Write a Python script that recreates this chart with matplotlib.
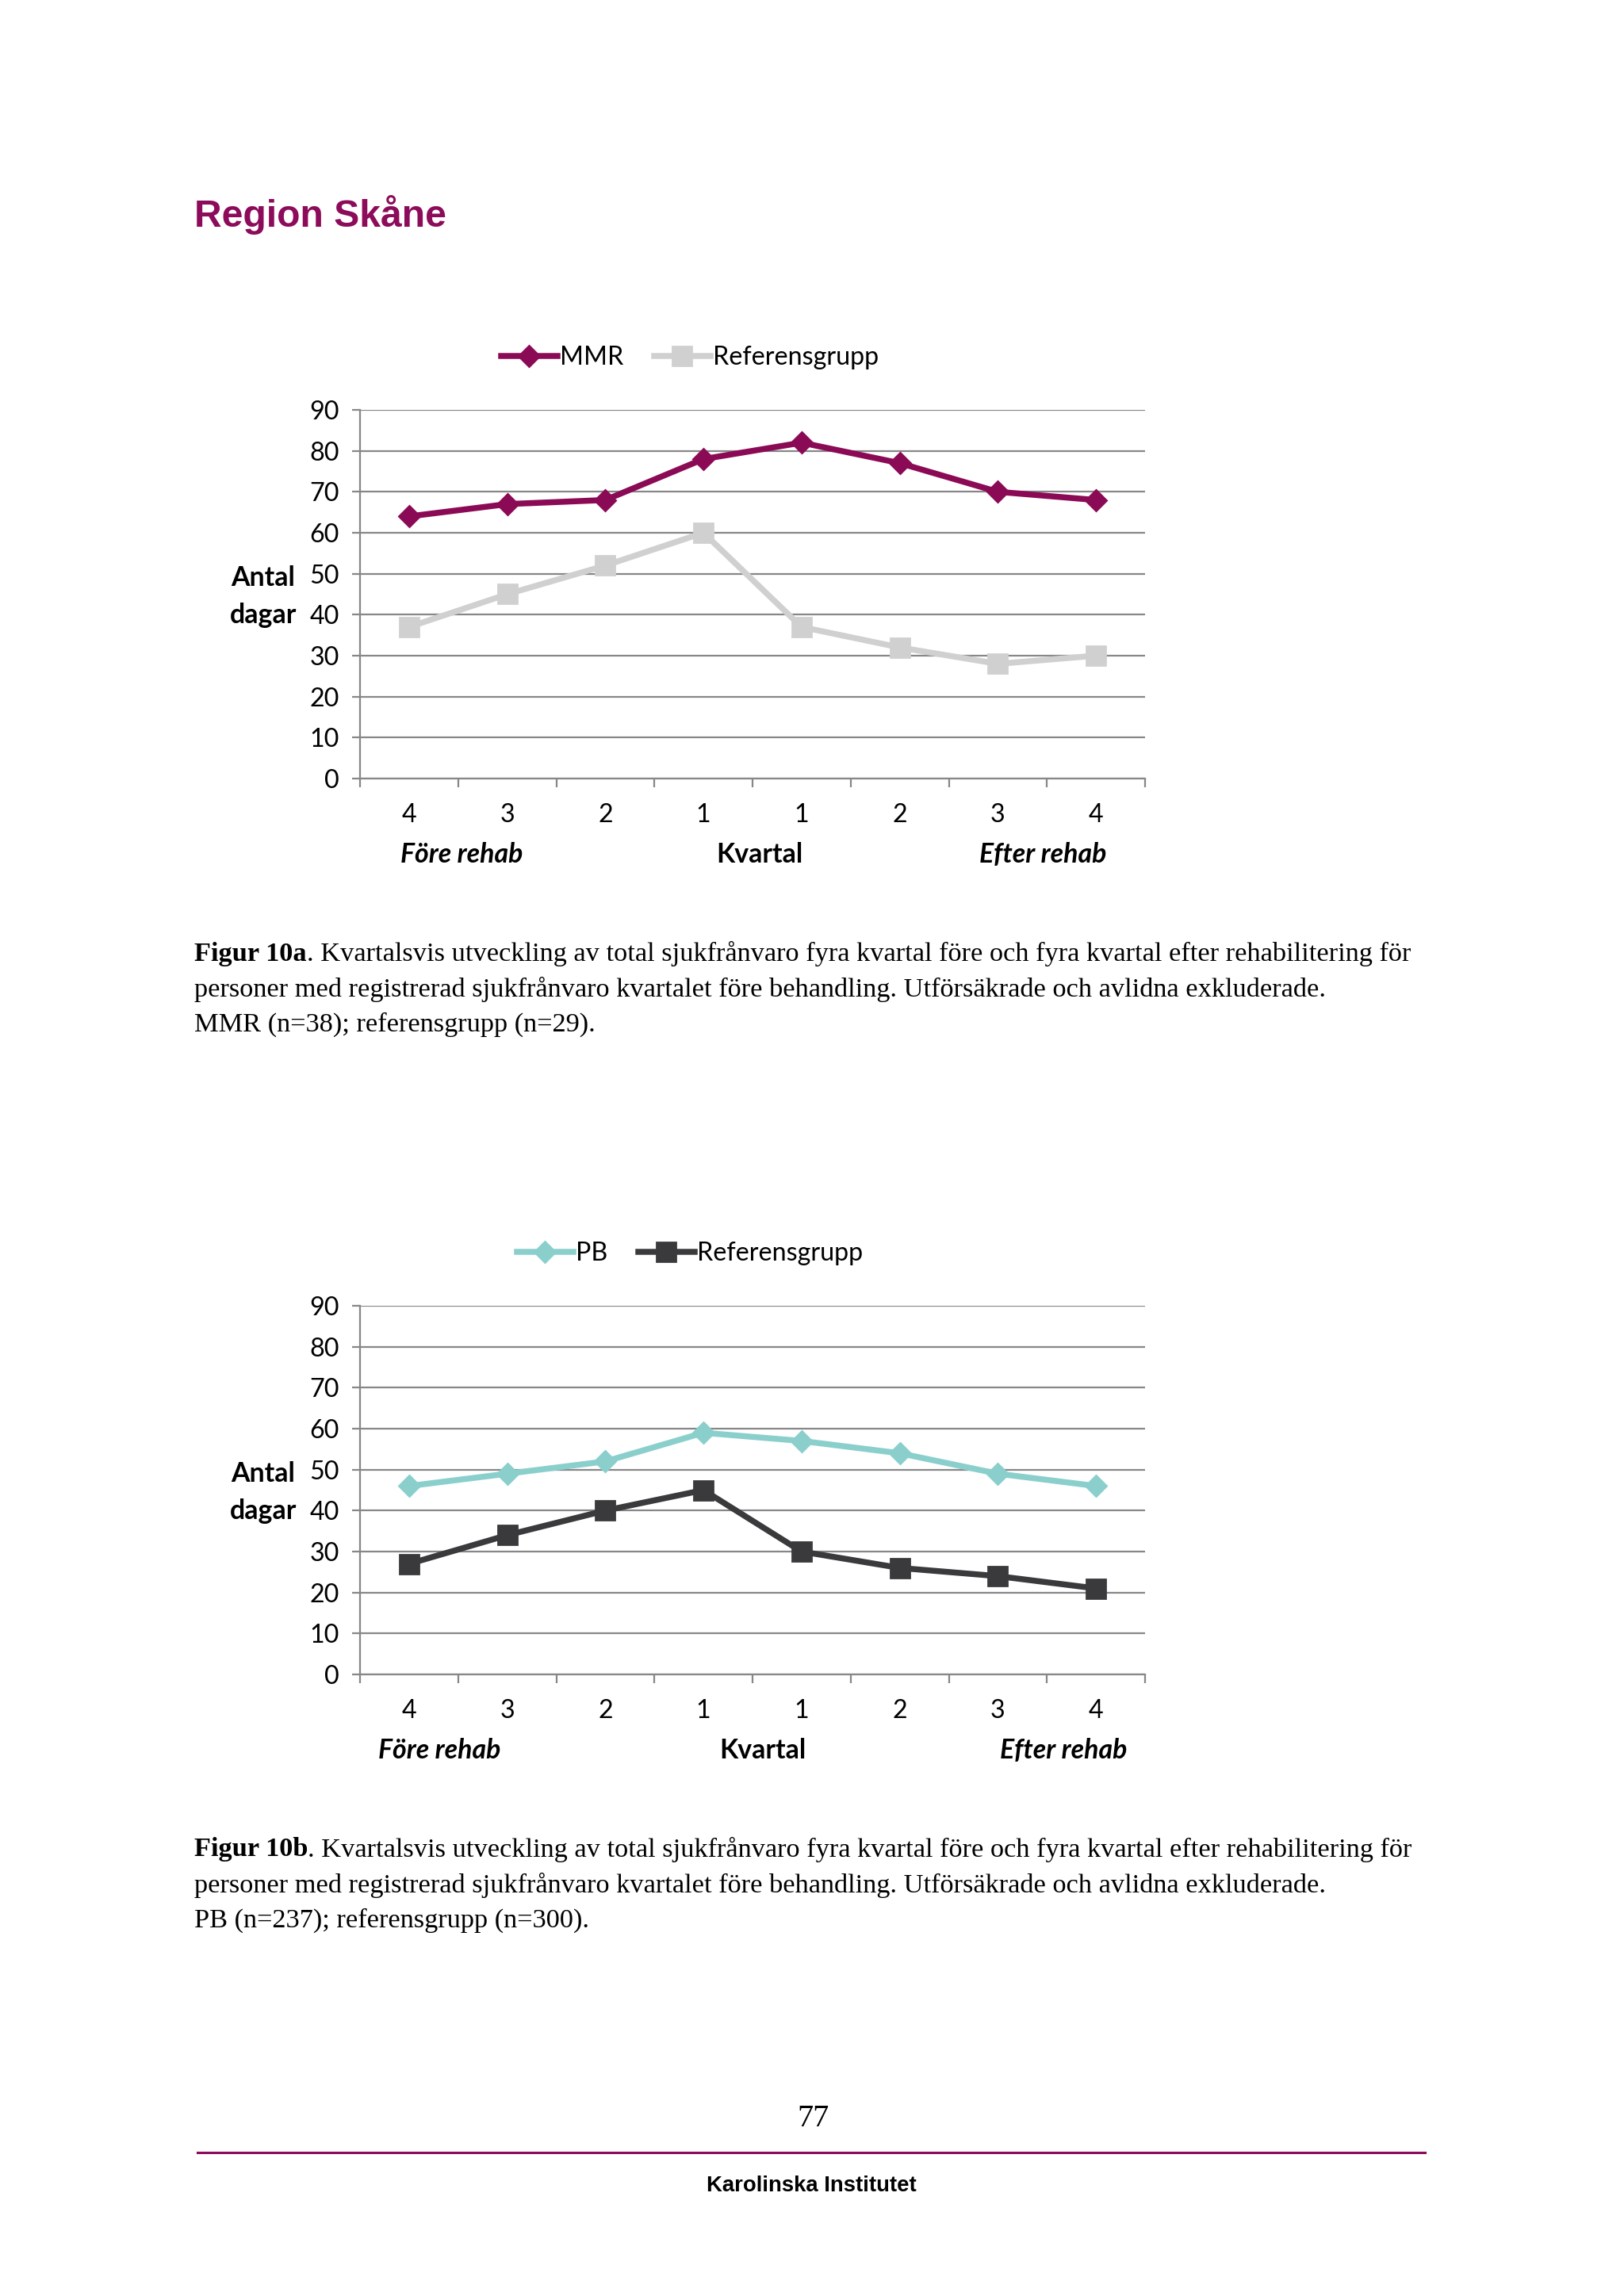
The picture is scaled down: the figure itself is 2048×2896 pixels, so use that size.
import matplotlib
matplotlib.use("Agg")
import matplotlib.pyplot as plt
from matplotlib.lines import Line2D

W, H, DPI = 2048, 2896, 200

categories = ["4", "3", "2", "1", "1", "2", "3", "4"]
yticks = [0, 10, 20, 30, 40, 50, 60, 70, 80, 90]

mmr = [64, 67, 68, 78, 82, 77, 70, 68]
ref_a = [37, 45, 52, 60, 37, 32, 28, 30]
pb = [46, 49, 52, 59, 57, 54, 49, 46]
ref_b = [27, 34, 40, 45, 30, 26, 24, 21]

C_MMR = "#8B0A55"
C_REFA = "#D0D0D0"
C_PB = "#8ACFCC"
C_REFB = "#3A3A3C"
C_GRID = "#878787"
C_TITLE = "#8C0B5A"

CHART_FONT = ["Lato", "DejaVu Sans"]
SERIF = ["Liberation Serif", "DejaVu Serif"]
SANS = ["Liberation Sans", "DejaVu Sans"]

TICK_FS = 11.6
LAB_FS = 12.2

fig = plt.figure(figsize=(W / DPI, H / DPI), dpi=DPI)
fig.patch.set_facecolor("white")


def fx(px):
    return px / W


def fy(py):
    return 1 - py / H


def chart(top, bottom, s1, s2, name1, name2, c1, c2, m1, m2, ms1, ms2, leg_y, group_x):
    left, right = 454, 1444
    ax = fig.add_axes([fx(left), fy(bottom), (right - left) / W, (bottom - top) / H])
    x = list(range(len(categories)))
    ax.plot(x, s1, color=c1, lw=2.7, marker=m1, ms=ms1, zorder=4, label=name1,
            solid_joinstyle="round")
    ax.plot(x, s2, color=c2, lw=2.7, marker=m2, ms=ms2, zorder=3, label=name2,
            solid_joinstyle="round")
    ax.set_xlim(-0.5, len(categories) - 0.5)
    ax.set_ylim(0, 90)
    ax.set_yticks(yticks)
    ax.set_yticklabels([str(v) for v in yticks], family=CHART_FONT, fontsize=TICK_FS)
    ax.set_xticks(x)
    ax.set_xticklabels(categories, family=CHART_FONT, fontsize=TICK_FS)
    ax.set_xticks([i - 0.5 for i in range(len(categories) + 1)], minor=True)
    ax.tick_params(axis="x", which="major", length=0, pad=11)
    ax.tick_params(axis="x", which="minor", length=4, width=0.8, color=C_GRID, direction="out")
    ax.tick_params(axis="y", which="major", length=3.5, width=0.8, color=C_GRID, pad=6)
    ax.yaxis.grid(True, color=C_GRID, lw=0.8)
    ax.set_axisbelow(True)
    for sp in ["top", "right"]:
        ax.spines[sp].set_visible(False)
    for sp in ["left", "bottom"]:
        ax.spines[sp].set_color(C_GRID)
        ax.spines[sp].set_linewidth(0.8)
    ax.set_facecolor("none")
    # y label
    fig.text(fx(332), fy((top + bottom) / 2 + 3), "Antal\ndagar", ha="center", va="center",
             family=CHART_FONT, fontsize=LAB_FS, fontweight="bold", linespacing=1.55)
    # group labels
    gy = bottom + 96
    fig.text(fx(group_x[0]), fy(gy), "Före rehab", ha="center", va="center",
             family=CHART_FONT, fontsize=LAB_FS, fontweight="bold", style="italic")
    fig.text(fx(group_x[1]), fy(gy), "Kvartal", ha="center", va="center",
             family=CHART_FONT, fontsize=LAB_FS, fontweight="bold")
    fig.text(fx(group_x[2]), fy(gy), "Efter rehab", ha="center", va="center",
             family=CHART_FONT, fontsize=LAB_FS, fontweight="bold", style="italic")
    # legend
    handles = [Line2D([], [], color=c1, lw=2.7, marker=m1, ms=ms1),
               Line2D([], [], color=c2, lw=2.7, marker=m2, ms=ms2)]
    fig.legend(handles, [name1, name2], loc="center", bbox_to_anchor=(fx(870), fy(leg_y)),
               ncol=2, frameon=False, prop={"family": CHART_FONT, "size": TICK_FS},
               handlelength=2.2, handletextpad=0.1, columnspacing=1.2, borderpad=0)
    return ax


chart(517, 982, mmr, ref_a, "MMR", "Referensgrupp", C_MMR, C_REFA, "D", "s", 6.5, 8.5,
      451, (582, 958, 1315))
chart(1647, 2112, pb, ref_b, "PB", "Referensgrupp", C_PB, C_REFB, "D", "s", 6.5, 8.5,
      1581, (554, 962, 1341))

# title
fig.text(fx(245), fy(271), "Region Skåne", ha="left", va="center", family=SANS,
         fontsize=17.3, fontweight="bold", color=C_TITLE)

renderer = fig.canvas.get_renderer()


def caption(y_lines, bold, rest_first, lines):
    fs = 12.4
    t = fig.text(fx(245), fy(y_lines[0]), bold, ha="left", va="center", family=SERIF,
                 fontsize=fs, fontweight="bold")
    bb = t.get_window_extent(renderer=renderer)
    fig.text(bb.x1 / W, fy(y_lines[0]), rest_first, ha="left", va="center", family=SERIF,
             fontsize=fs)
    for yy, ln in zip(y_lines[1:], lines):
        fig.text(fx(245), fy(yy), ln, ha="left", va="center", family=SERIF, fontsize=fs)


cap_rest = ". Kvartalsvis utveckling av total sjukfrånvaro fyra kvartal före och fyra kvartal efter rehabilitering för"
cap_l2 = "personer med registrerad sjukfrånvaro kvartalet före behandling. Utförsäkrade och avlidna exkluderade."
caption([1203, 1248, 1292], "Figur 10a", cap_rest, [cap_l2, "MMR (n=38); referensgrupp (n=29)."])
caption([2333, 2378, 2422], "Figur 10b", cap_rest, [cap_l2, "PB (n=237); referensgrupp (n=300)."])

# footer
fig.text(fx(1025), fy(2672), "77", ha="center", va="center", family=SERIF, fontsize=14.5)
fig.add_artist(Line2D([fx(249), fx(1797)], [fy(2715), fy(2715)], color=C_TITLE, lw=1.1))
fig.text(fx(1023), fy(2757), "Karolinska Institutet", ha="center", va="center", family=SANS,
         fontsize=9.9, fontweight="bold")

fig.savefig("out.png", dpi=DPI, facecolor="white")
